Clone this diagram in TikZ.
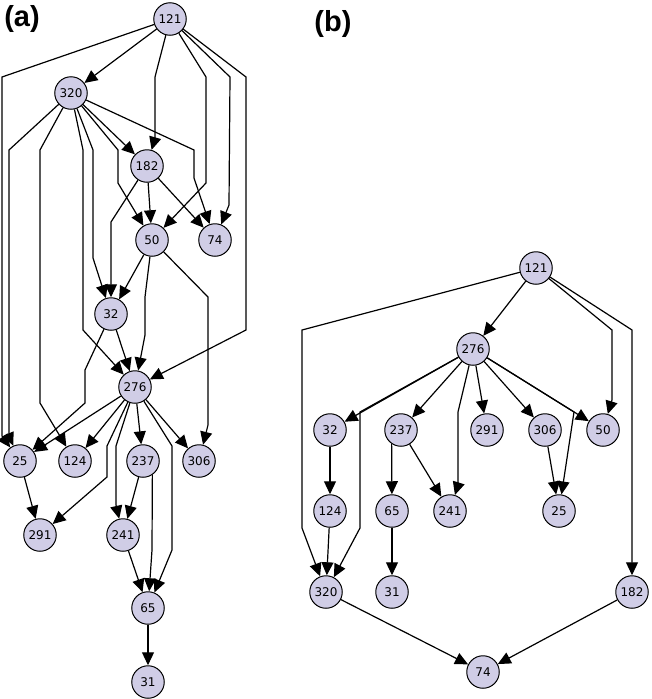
\documentclass[tikz,border=0pt]{standalone}
\usepackage{fontspec}
\newfontfamily\nodefont{DejaVu Sans}
\newfontfamily\labfont{Liberation Sans}
\usetikzlibrary{arrows.meta}
\definecolor{nodefill}{RGB}{208,205,230}
\tikzset{
  nd/.style={circle,draw=black,line width=1pt,fill=nodefill,minimum size=32.5pt,inner sep=0pt,font=\nodefont\fontsize{12}{14}\selectfont},
  e/.style={draw=black,line width=1.2pt,-{Triangle[length=13pt,width=12pt]}},
  lab/.style={font=\labfont\bfseries\fontsize{29}{32}\selectfont}
}
\begin{document}
\begin{tikzpicture}[x=1pt,y=-1pt]
\useasboundingbox (0,0) rectangle (651,699);
% panel labels
\node[lab] (la) at (22,19) {(a)};
\node[lab] (lb) at (333,24) {(b)};
% panel (a) nodes
\node[nd] (a121) at (170,19) {121};
\node[nd] (a320) at (71,93) {320};
\node[nd] (a182) at (147,166) {182};
\node[nd] (a50) at (152,240) {50};
\node[nd] (a74) at (215,240) {74};
\node[nd] (a32) at (111,314) {32};
\node[nd] (a276) at (135,387) {276};
\node[nd] (a25) at (20,461) {25};
\node[nd] (a124) at (75,461) {124};
\node[nd] (a237) at (143,461) {237};
\node[nd] (a306) at (199,461) {306};
\node[nd] (a291) at (40,535) {291};
\node[nd] (a241) at (123,535) {241};
\node[nd] (a65) at (148,608) {65};
\node[nd] (a31) at (148,682) {31};
% panel (a) edges
\draw[e] (a121) -- (a320);
\draw[e] (a121) -- (2,77) -- (2,436) -- (a25);
\draw[e] (a121) -- (155,77) -- (155,138) -- (a182);
\draw[e] (a121) -- (206,77) -- (206,183) -- (a50);
\draw[e] (a121) -- (230,77) -- (229,205) -- (a74);
\draw[e] (a121) -- (246,77) -- (246,330) -- (a276);
\draw[e] (a320) -- (9,150) -- (9,436) -- (a25);
\draw[e] (a320) -- (40,150) -- (40,403) -- (a124);
\draw[e] (a320) -- (83,150) -- (83,330) -- (a276);
\draw[e] (a320) -- (93,150) -- (93,258) -- (a32);
\draw[e] (a320) -- (118,150) -- (118,183) -- (a50);
\draw[e] (a320) -- (a182);
\draw[e] (a320) -- (194,150) -- (194,178) -- (a74);
\draw[e] (a182) -- (a50);
\draw[e] (a182) -- (a74);
\draw[e] (a182) -- (111,222) -- (a32);
\draw[e] (a50) -- (a32);
\draw[e] (a50) -- (145,297) -- (145,335) -- (a276);
\draw[e] (a50) -- (208,297) -- (208,425) -- (a306);
\draw[e] (a32) -- (a276);
\draw[e] (a32) -- (85,370) -- (85,403) -- (a25);
\draw[e] (a276) -- (a25);
\draw[e] (a276) -- (a124);
\draw[e] (a276) -- (107,446) -- (107,477) -- (a291);
\draw[e] (a276) -- (116,446) -- (116,505) -- (a241);
\draw[e] (a276) -- (a237);
\draw[e] (a276) -- (172,446) -- (172,550) -- (a65);
\draw[e] (a276) -- (a306);
\draw[e] (a25) -- (a291);
\draw[e] (a237) -- (a241);
\draw[e] (a237.304) -- (152,550) -- (a65);
\draw[e] (a241) -- (a65);
\draw[e] (a65) -- (a31);
% panel (b) nodes
\node[nd] (b121) at (536,268) {121};
\node[nd] (b276) at (473,349) {276};
\node[nd] (b32) at (330,430) {32};
\node[nd] (b237) at (401,430) {237};
\node[nd] (b291) at (487,430) {291};
\node[nd] (b306) at (545,430) {306};
\node[nd] (b50) at (603,430) {50};
\node[nd] (b124) at (330,511) {124};
\node[nd] (b65) at (392,511) {65};
\node[nd] (b241) at (450,511) {241};
\node[nd] (b25) at (559,511) {25};
\node[nd] (b320) at (326,592) {320};
\node[nd] (b31) at (392,592) {31};
\node[nd] (b182) at (632,592) {182};
\node[nd] (b74) at (483,672) {74};
% panel (b) edges
\draw[e] (b121) -- (b276);
\draw[e] (b121) -- (302,330) -- (302,528) -- (b320);
\draw[e] (b121) -- (612,330) -- (612,400) -- (b50);
\draw[e] (b121) -- (632,330) -- (b182);
\draw[e] (b276) -- (b32);
\draw[e] (b276) -- (360,412) -- (360,528) -- (b320);
\draw[e] (b276) -- (b237);
\draw[e] (b276) -- (458,412) -- (458,485) -- (b241);
\draw[e] (b276) -- (b291);
\draw[e] (b276) -- (b306);
\draw[e] (b276) -- (574,412) -- (b25);
\draw[e] (b276) -- (b50);
\draw[e] (b32) -- (b124);
\draw[e] (b124) -- (b320);
\draw[e] (b237.236) -- (b65);
\draw[e] (b237) -- (b241);
\draw[e] (b65) -- (b31);
\draw[e] (b306) -- (b25);
\draw[e] (b320) -- (b74);
\draw[e] (b182) -- (b74);
\end{tikzpicture}
\end{document}
